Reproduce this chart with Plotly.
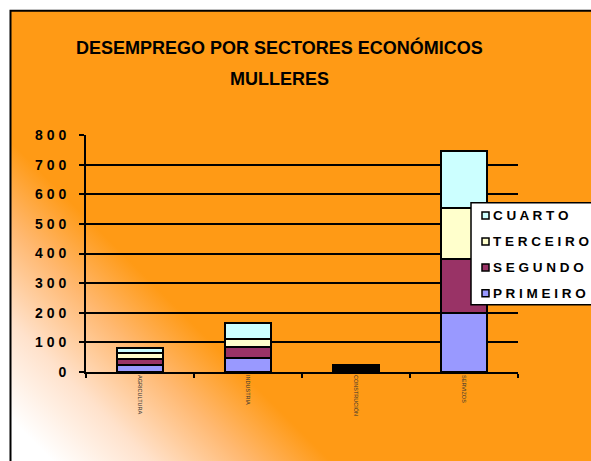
import base64
import plotly.graph_objects as go

# ---- data ----
categories = ["AGRICULTURA", "INDUSTRIA", "CONSTRUCIÓN", "SERVIZOS"]
primeiro = [25, 47, 6, 200]
segundo = [20, 39, 6, 180]
terceiro = [18, 25, 5, 175]
cuarto = [17, 56, 5, 190]
series_names = ["P R I M E I R O", "S E G U N D O", "T E R C E I R O", "C U A R T O"]
series_colors = ["#9999FF", "#993366", "#FFFFCC", "#CCFFFF"]
y_tick_values = [0, 100, 200, 300, 400, 500, 600, 700, 800]
y_tick_labels = ["0", "1 0 0", "2 0 0", "3 0 0", "4 0 0", "5 0 0", "6 0 0", "7 0 0", "8 0 0"]
title_line1 = "DESEMPREGO POR SECTORES ECONÓMICOS"
title_line2 = "MULLERES"

ORANGE = "#FF9A15"
FONT = "Liberation Sans, Arial, sans-serif"
W, H = 591, 461
L, T = 86, 135
R = W - 518
B = H - 372.5
pw = W - L - R
ph = H - T - B


def px_x(px):  # page pixel -> paper x
    return (px - L) / pw


def px_y(py):  # page pixel -> paper y
    return (H - B - py) / ph


# gradient background as svg image
svg = f'''<svg xmlns="http://www.w3.org/2000/svg" width="600" height="470" viewBox="0 0 600 470" preserveAspectRatio="none">
<defs><linearGradient id="g" gradientUnits="userSpaceOnUse" x1="21" y1="430" x2="160" y2="291">
<stop offset="0" stop-color="#FFFFFF"/><stop offset="0.35" stop-color="#FFE2CC"/>
<stop offset="0.7" stop-color="#FFB870"/><stop offset="1" stop-color="{ORANGE}"/></linearGradient></defs>
<rect x="0" y="0" width="600" height="470" fill="url(#g)"/></svg>'''
src = "data:image/svg+xml;base64," + base64.b64encode(svg.encode()).decode()

fig = go.Figure()
all_series = [primeiro, segundo, terceiro, cuarto]
for name, vals, col in zip(series_names, all_series, series_colors):
    fig.add_trace(go.Bar(
        x=categories, y=vals, name=name,
        marker=dict(color=col, line=dict(color="black", width=2)),
        width=0.42, showlegend=False,
    ))

shapes = [dict(
    type="rect", xref="paper", yref="paper",
    x0=px_x(10.5), x1=px_x(640), y0=px_y(10.5), y1=px_y(520),
    line=dict(color="black", width=2), fillcolor="rgba(0,0,0,0)", layer="above",
)]
annotations = [
    dict(text=title_line1, xref="paper", yref="paper", x=px_x(279), y=px_y(47),
         xanchor="center", yanchor="middle", showarrow=False,
         font=dict(size=18, weight="bold", family=FONT)),
    dict(text=title_line2, xref="paper", yref="paper", x=px_x(279), y=px_y(79),
         xanchor="center", yanchor="middle", showarrow=False,
         font=dict(size=18, weight="bold", family=FONT)),
]

# legend box (drawn manually, entries in reversed order)
shapes.append(dict(
    type="rect", xref="paper", yref="paper",
    x0=px_x(471), x1=px_x(640), y0=px_y(203), y1=px_y(305),
    line=dict(color="black", width=1.5), fillcolor="white", layer="above",
))
row_y = [293.7, 267.7, 241.7, 215.7]  # primeiro .. cuarto
for name, col, ry in zip(series_names, series_colors, row_y):
    shapes.append(dict(
        type="rect", xref="paper", yref="paper",
        x0=px_x(482), x1=px_x(489), y0=px_y(ry - 3.5), y1=px_y(ry + 3.5),
        line=dict(color="black", width=1.5), fillcolor=col, layer="above",
    ))
    annotations.append(dict(
        text=name, xref="paper", yref="paper", x=px_x(491), y=px_y(ry),
        xanchor="left", yanchor="middle", showarrow=False,
        font=dict(size=13.5, weight="bold", family=FONT),
    ))

fig.update_layout(
    barmode="stack",
    width=W, height=H,
    margin=dict(l=L, r=R, t=T, b=B, autoexpand=False),
    paper_bgcolor="white",
    plot_bgcolor="rgba(0,0,0,0)",
    font=dict(family=FONT, color="black"),
    showlegend=False,
    xaxis=dict(
        range=[-0.5, 3.5], showgrid=False, showline=True, linecolor="black", linewidth=2,
        ticks="outside", tickson="boundaries", ticklen=4, tickwidth=2, tickcolor="black",
        tickangle=90, tickfont=dict(size=5.5, color="#333333"),
        zeroline=False,
    ),
    yaxis=dict(
        range=[0, 800], tickvals=y_tick_values, ticktext=y_tick_labels,
        showgrid=True, gridcolor="black", gridwidth=2,
        showline=True, linecolor="black", linewidth=2,
        ticks="outside", ticklen=5, tickwidth=2, tickcolor="black",
        tickfont=dict(size=14, family=FONT, weight="bold"),
        ticklabelstandoff=10, zeroline=False,
    ),
    images=[dict(
        source=src, xref="paper", yref="paper",
        x=px_x(10), y=px_y(10), sizex=600 / pw, sizey=470 / ph,
        xanchor="left", yanchor="top", sizing="stretch", layer="below",
    )],
    shapes=shapes,
    annotations=annotations,
)

fig.write_html(
    "out.html",
    config={"displayModeBar": False},
    post_script="document.body.style.margin='0';document.body.style.overflow='hidden';",
)
